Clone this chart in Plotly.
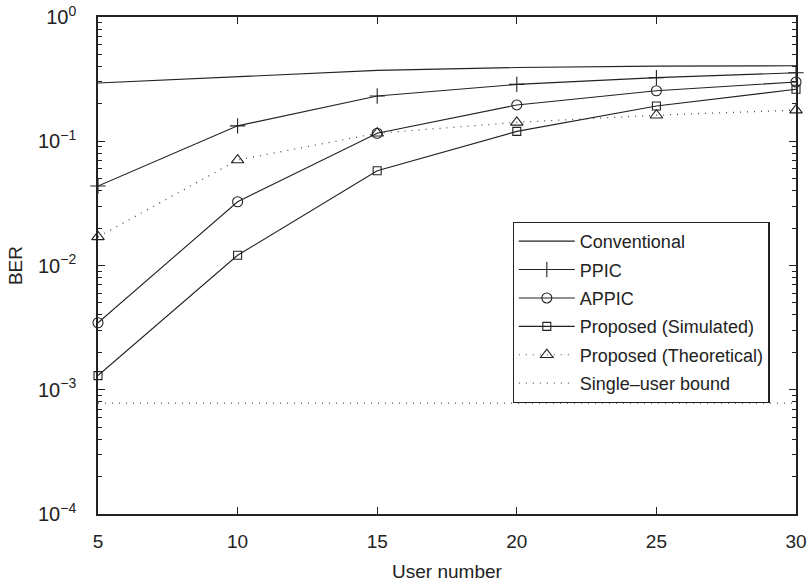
import plotly.graph_objects as go

# BER versus number of active users
users = [5, 10, 15, 20, 25, 30]

ber_conventional = [0.294, 0.333, 0.372, 0.392, 0.402, 0.405]
ber_ppic = [0.0436, 0.133, 0.231, 0.287, 0.325, 0.356]
ber_appic = [0.00346, 0.0326, 0.116, 0.196, 0.255, 0.300]
ber_prop_sim = [0.0013, 0.0121, 0.0579, 0.120, 0.192, 0.262]
ber_prop_theo = [0.0170, 0.0706, 0.116, 0.142, 0.162, 0.178]
ber_single_user = [7.8e-4, 7.8e-4, 7.8e-4, 7.8e-4, 7.8e-4, 7.8e-4]

y_tick_vals = [1e-4, 1e-3, 1e-2, 1e-1, 1e0]
y_tick_text = ["10<sup>−4</sup>", "10<sup>−3</sup>", "10<sup>−2</sup>",
               "10<sup>−1</sup>", "10<sup>0</sup>"]
y_minor_vals = [k * 10.0 ** p for p in range(-4, 0) for k in range(2, 10)]
x_tick_vals = [5, 10, 15, 20, 25, 30]

INK = "#222222"
FONT = "Liberation Sans, Arial, Helvetica, sans-serif"
DOTS = "1px,6px"

fig = go.Figure()


def add_series(x, y, name, line, marker=None):
    fig.add_trace(go.Scatter(
        x=x, y=y, name=name, legendgroup=name,
        mode="lines+markers" if marker else "lines",
        line=line, marker=marker, cliponaxis=False))


add_series(users, ber_conventional, "Conventional",
           dict(color=INK, width=1.1))
add_series(users, ber_ppic, "PPIC", dict(color=INK, width=1.1),
           dict(symbol="cross-thin", size=11, color=INK,
                line=dict(color=INK, width=1.1)))
add_series(users, ber_appic, "APPIC", dict(color=INK, width=1.1),
           dict(symbol="circle-open", size=10, color=INK,
                line=dict(color=INK, width=1.1)))
add_series(users, ber_prop_sim, "Proposed (Simulated)",
           dict(color=INK, width=1.1),
           dict(symbol="square-open", size=8, color=INK,
                line=dict(color=INK, width=1.1)))
add_series(users, ber_prop_theo, "Proposed (Theoretical)",
           dict(color="#444444", width=1.2, dash=DOTS),
           dict(symbol="triangle-up-open", size=11, color=INK,
                line=dict(color=INK, width=1.1)))
add_series(users, ber_single_user, "Single–user bound",
           dict(color="#555555", width=1.2, dash=DOTS))

fig.update_layout(
    width=810, height=584,
    margin=dict(l=98, r=14, t=17, b=70),
    paper_bgcolor="white", plot_bgcolor="white",
    font=dict(family=FONT, size=19, color=INK),
    showlegend=True,
    legend=dict(
        x=0.594, y=0.588, xanchor="left", yanchor="top",
        bgcolor="white", bordercolor=INK, borderwidth=1.2,
        font=dict(family=FONT, size=18, color=INK),
        itemwidth=56, traceorder="grouped", tracegroupgap=2,
    ),
)

fig.update_xaxes(
    range=[5, 30], tickvals=x_tick_vals, automargin=False,
    ticks="inside", ticklen=7, tickwidth=1, tickcolor=INK,
    showline=True, linecolor=INK, linewidth=1.6, mirror="ticks",
    showgrid=False, zeroline=False,
    tickfont=dict(family=FONT, size=19, color=INK),
    ticklabelstandoff=9,
    title=dict(text="User number", font=dict(family=FONT, size=19, color=INK),
               standoff=14),
)
fig.update_yaxes(
    type="log", range=[-4, 0], automargin=False,
    tickvals=y_tick_vals, ticktext=y_tick_text,
    ticks="inside", ticklen=7, tickwidth=1, tickcolor=INK,
    minor=dict(tickvals=y_minor_vals, ticks="inside", ticklen=4,
               tickwidth=1, tickcolor=INK, showgrid=False),
    showline=True, linecolor=INK, linewidth=1.6, mirror="ticks",
    showgrid=False, zeroline=False,
    tickfont=dict(family=FONT, size=20, color=INK),
    ticklabelstandoff=16,
    title=dict(text="BER", font=dict(family=FONT, size=19, color=INK),
               standoff=10),
)

fig.write_html("out.html")
